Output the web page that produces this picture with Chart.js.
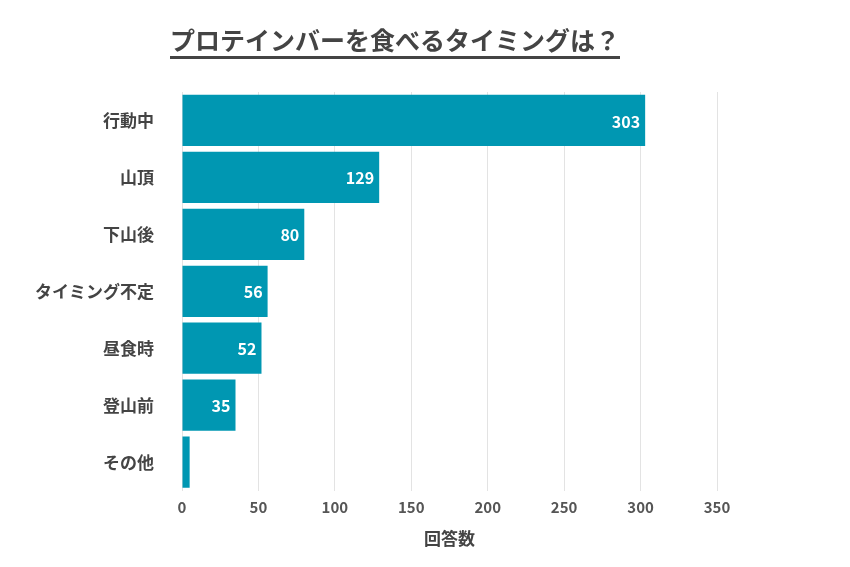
<!DOCTYPE html>
<html><head><meta charset="utf-8">
<script src="https://cdn.jsdelivr.net/npm/chart.js@4"></script>
<style>body{margin:0;background:#fff}</style></head>
<body><canvas id="c" width="850" height="567"></canvas>
<script>
const categories=["行動中","山頂","下山後","タイミング不定","昼食時","登山前","その他"];
const values=[303,129,80,56,52,35,5];
const xTicks=[0,50,100,150,200,250,300,350];
const titleText="プロテインバーを食べるタイミングは？";
const FONT='"Noto Sans CJK JP","Noto Sans",sans-serif';
const titlePlugin={id:'tp',afterDraw(ch){const c=ch.ctx;c.save();c.font='bold 25px '+FONT;c.fillStyle='#444';c.textAlign='center';c.textBaseline='alphabetic';c.fillText(titleText,395,50);const w=c.measureText(titleText).width;c.fillRect(395-w/2,56,w,3);c.restore();}};
const labelPlugin={id:'lp',afterDatasetsDraw(ch){const c=ch.ctx;const m=ch.getDatasetMeta(0);c.save();c.font='bold 16px '+FONT;c.fillStyle='#fff';c.textAlign='right';c.textBaseline='middle';m.data.forEach((b,i)=>{if(values[i]<20)return;c.fillText(values[i],b.x-5,b.y+1);});c.restore();}};
new Chart(document.getElementById('c'),{type:'bar',
data:{labels:categories,datasets:[{data:values,backgroundColor:'#0097b2',barPercentage:0.9,categoryPercentage:1}]},
options:{indexAxis:'y',responsive:false,animation:false,
layout:{padding:{top:92,right:133,bottom:14,left:10}},
plugins:{legend:{display:false},tooltip:{enabled:false}},
scales:{x:{min:0,max:350,afterBuildTicks(a){a.ticks=xTicks.map(v=>({value:v}));},grid:{color:'#e3e3e3',drawTicks:false},border:{display:false},
ticks:{color:'#555',font:{family:FONT,size:15,weight:'bold'},padding:8},
title:{display:true,text:'回答数',color:'#444',font:{family:FONT,size:17,weight:'bold'},padding:{top:4}}},
y:{grid:{display:false},border:{display:false},ticks:{color:'#444',font:{family:FONT,size:17,weight:'bold'},padding:20},afterFit(a){a.width=172;}}}},
plugins:[titlePlugin,labelPlugin]});
</script></body></html>
